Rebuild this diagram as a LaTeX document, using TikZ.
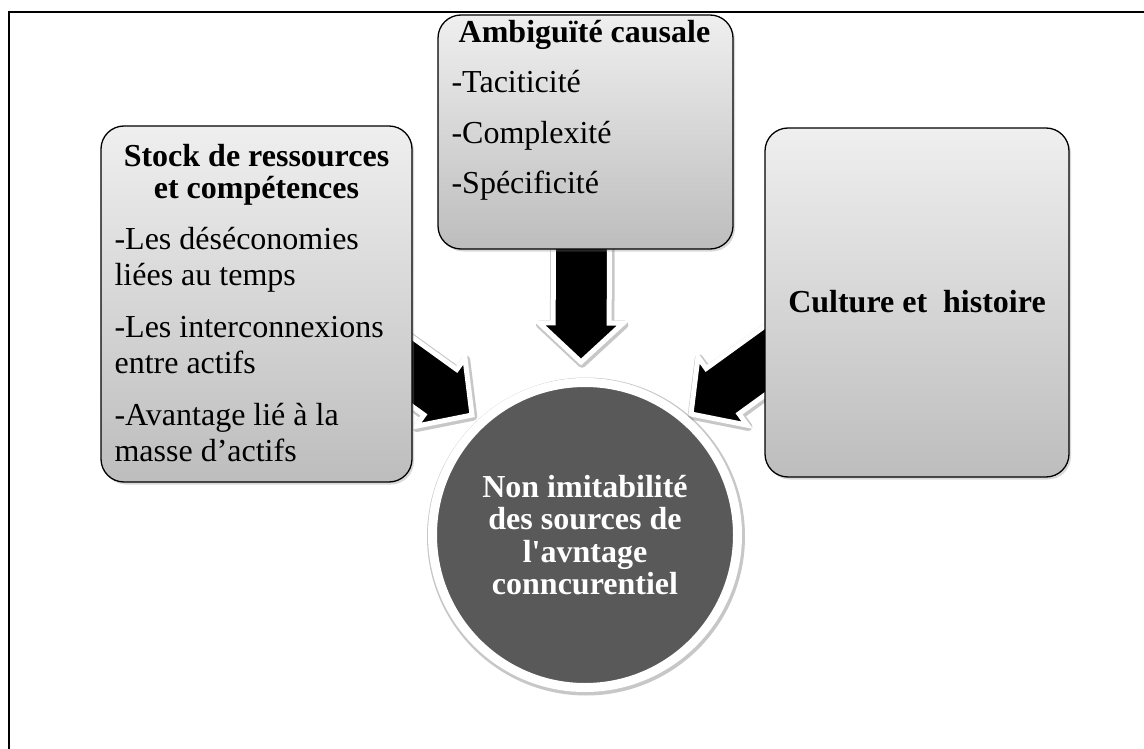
\documentclass[tikz,border=0pt]{standalone}
\usepackage{fontspec}
\setmainfont{Liberation Serif}[Ligatures=TeXOff]
\usetikzlibrary{calc,positioning,shadows,backgrounds}

\definecolor{boxtop}{HTML}{EFEFEF}
\definecolor{boxbot}{HTML}{BDBDBD}
\definecolor{coregray}{HTML}{595959}

\tikzset{
    softshadow/.style={drop shadow={opacity=0.3,shadow xshift=2pt,shadow yshift=-2.5pt}},
    halo/.style={preaction={draw=black,opacity=0.22,line width=#1,line join=round,
        transform canvas={shift={(1pt,-1.5pt)}}}},
    factorbox/.style={draw=black,line width=1.3pt,rounded corners=23pt,
        top color=boxtop,bottom color=boxbot,softshadow,inner sep=0pt},
    corecircle/.style={circle,fill=coregray,draw=white,line width=9pt,
        minimum size=305pt,halo=13pt,text=white,inner sep=0pt,
        font=\fontsize{32}{32.5}\selectfont\bfseries,align=center},
    bigarrow/.style={fill=black,draw=white,line width=5pt,line join=miter,halo=8.5pt},
    boxtext/.style={inner sep=0pt,font=\fontsize{32}{36}\selectfont,align=left},
    headtext/.style={inner sep=0pt,font=\fontsize{32}{32}\selectfont\bfseries,align=center},
}

\begin{document}
\begin{tikzpicture}[x=1pt,y=-1pt]
\useasboundingbox (0,0) rectangle (1144,749);

% Page frame: only the top and left edges are on the page.
\draw[line width=1.5pt] (9,760) -- (9,12) -- (1150,12);

% The three factor boxes.
\node[factorbox,minimum width=311pt,minimum height=356pt] (stock) at (256.5,304) {};
\node[factorbox,minimum width=295pt,minimum height=234pt] (ambig) at (585.5,132) {};
\node[factorbox,minimum width=304pt,minimum height=349pt] (cult) at (917,302.5) {};

% Core circle, the target of all arrows.
\node[corecircle] (core) at (585,535)
    {Non imitabilité\\des sources de\\l'avntage\\conncurentiel};

% Box texts.
\node[headtext,anchor=north] (stockhead) at ($(stock.north)+(0,19)$)
    {Stock de ressources\\et compétences};
\node[boxtext,anchor=north west] (stocklist) at ($(stock.north west)+(14,102)$)
    {-Les déséconomies\\liées au temps\\[16pt]-Les interconnexions\\entre actifs\\[16pt]%
     -Avantage lié à la\\masse d’actifs};

\node[headtext,anchor=north] (ambighead) at ($(ambig.north)+(-1,6)$)
    {Ambiguïté causale};
\node[boxtext,anchor=north west] (ambiglist) at ($(ambig.north west)+(14,56)$)
    {-Taciticité\\[14.5pt]-Complexité\\[14.5pt]-Spécificité};

\node[headtext] (culttext) at ($(cult.center)+(0,-1)$) {Culture et\ \ histoire};

% Arrow ends: sources hide behind the boxes, tips sit round the circle.
\coordinate (srcL) at ($(stock.east)+(-46,35)$);
\coordinate (srcM) at ($(ambig.south)+(-4,-15)$);
\coordinate (srcR) at ($(cult.west)+(31,36)$);
\coordinate (tipL) at ($(core.center)+(-113,-120)$);
\coordinate (tipM) at ($(core.center)+(-4,-173)$);
\coordinate (tipR) at ($(core.center)+(106,-121)$);

% Block arrows, behind the boxes.
\begin{pgfonlayer}{background}
\foreach \src/\tip in {srcL/tipL,srcM/tipM,srcR/tipR} {

    % head base, 39pt back from the tip
    \coordinate (\tip base) at ($(\tip)!39pt!(\src)$);

    \draw[bigarrow]
        ($(\src)!28pt!90:(\tip)$)
        -- ($(\tip base)!28pt!-90:(\src)$)
        -- ($(\tip base)!42pt!-90:(\src)$)
        -- (\tip)
        -- ($(\tip base)!42pt!90:(\src)$)
        -- ($(\tip base)!28pt!90:(\src)$)
        -- ($(\src)!28pt!-90:(\tip)$)
        -- cycle;
}
\end{pgfonlayer}

\end{tikzpicture}
\end{document}
